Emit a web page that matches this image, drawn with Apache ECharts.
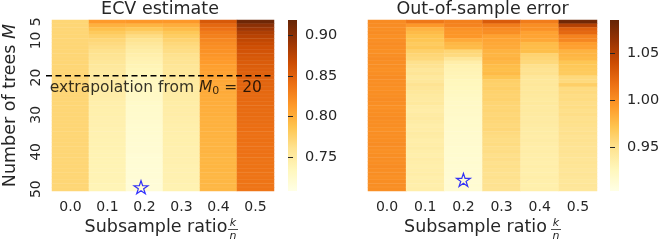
<!DOCTYPE html>
<html><head><meta charset="utf-8">
<script src="https://cdn.jsdelivr.net/npm/echarts@6/dist/echarts.min.js"></script>
<style>html,body{margin:0;padding:0;background:#fff}#c{width:665px;height:243px}</style>
</head><body><div id="c"></div>
<script>
// ---------- data ----------
const ratios = ['0.0','0.1','0.2','0.3','0.4','0.5'];
const trees = ['5','6','7','8','9','10','11','12','13','14','15','16','17','18','19','20','21','22','23','24','25','26','27','28','29','30','31','32','33','34','35','36','37','38','39','40','41','42','43','44','45','46','47','48','49','50'];
const yTickLabels = ['5','10','20','30','40','50'];

// ECV estimate, one array per subsample ratio, M = 5..50
const ecv00 = [0.772,0.772,0.772,0.772,0.772,0.772,0.772,0.772,0.772,0.772,
0.772,0.772,0.772,0.772,0.772,0.772,0.772,0.772,0.772,0.772,
0.772,0.772,0.772,0.772,0.772,0.772,0.772,0.772,0.772,0.772,
0.772,0.772,0.772,0.772,0.772,0.772,0.772,0.772,0.772,0.772,
0.772,0.772,0.772,0.772,0.772,0.772];
const ecv01 = [0.813,0.799,0.789,0.782,0.776,0.771,0.768,0.765,0.762,0.760,
0.758,0.756,0.754,0.753,0.752,0.751,0.750,0.749,0.748,0.747,
0.747,0.746,0.745,0.745,0.744,0.744,0.743,0.743,0.743,0.742,
0.742,0.742,0.741,0.741,0.741,0.740,0.740,0.740,0.740,0.739,
0.739,0.739,0.739,0.739,0.738,0.738];
const ecv02 = [0.815,0.797,0.784,0.774,0.766,0.760,0.755,0.751,0.748,0.745,
0.742,0.740,0.738,0.736,0.735,0.733,0.732,0.731,0.730,0.729,
0.728,0.727,0.726,0.725,0.725,0.724,0.724,0.723,0.722,0.722,
0.722,0.721,0.721,0.720,0.720,0.720,0.719,0.719,0.719,0.718,
0.718,0.718,0.718,0.717,0.717,0.717];
const ecv03 = [0.815,0.801,0.792,0.784,0.779,0.774,0.770,0.767,0.765,0.762,
0.760,0.759,0.757,0.756,0.755,0.754,0.753,0.752,0.751,0.750,
0.749,0.749,0.748,0.748,0.747,0.747,0.746,0.746,0.745,0.745,
0.745,0.744,0.744,0.744,0.743,0.743,0.743,0.743,0.743,0.742,
0.742,0.742,0.742,0.742,0.741,0.741];
const ecv04 = [0.857,0.846,0.839,0.833,0.829,0.825,0.822,0.820,0.818,0.816,
0.814,0.812,0.810,0.809,0.808,0.806,0.805,0.804,0.803,0.803,
0.802,0.802,0.801,0.801,0.800,0.800,0.799,0.799,0.799,0.798,
0.798,0.798,0.797,0.797,0.797,0.797,0.796,0.796,0.796,0.796,
0.796,0.795,0.795,0.795,0.795,0.795];
const ecv05 = [0.915,0.900,0.890,0.882,0.876,0.872,0.868,0.864,0.861,0.859,
0.857,0.855,0.854,0.852,0.851,0.850,0.849,0.848,0.847,0.846,
0.845,0.845,0.844,0.844,0.843,0.843,0.842,0.842,0.841,0.841,
0.840,0.840,0.840,0.839,0.839,0.839,0.839,0.838,0.838,0.838,
0.838,0.837,0.837,0.837,0.837,0.837];

// Out-of-sample error, one array per subsample ratio, M = 5..50
const oos00 = [1.002,1.001,1.000,1.001,0.999,1.000,1.001,1.000,0.999,1.000,
1.001,1.000,1.000,0.999,1.000,1.001,1.000,1.000,0.999,1.000,
1.000,1.001,1.000,0.999,1.000,1.000,1.001,1.000,1.000,0.999,
1.000,1.000,1.000,1.001,1.000,0.999,1.000,1.000,1.000,1.001,
1.000,1.000,0.999,1.000,1.000,1.000];
const oos01 = [1.013,0.995,0.980,0.976,0.972,0.970,0.966,0.968,0.962,0.958,
0.956,0.950,0.948,0.944,0.946,0.942,0.944,0.948,0.945,0.943,
0.941,0.940,0.942,0.938,0.937,0.939,0.940,0.938,0.936,0.937,
0.939,0.938,0.936,0.937,0.938,0.936,0.935,0.937,0.936,0.935,
0.936,0.937,0.935,0.936,0.935,0.936];
const oos02 = [1.008,1.006,0.998,0.996,0.995,0.985,0.978,0.976,0.958,0.955,
0.945,0.936,0.932,0.930,0.929,0.928,0.926,0.925,0.924,0.923,
0.922,0.921,0.920,0.920,0.919,0.919,0.918,0.918,0.918,0.917,
0.917,0.916,0.916,0.916,0.915,0.915,0.915,0.914,0.915,0.914,
0.914,0.914,0.913,0.913,0.914,0.913];
const oos03 = [1.030,1.010,1.002,1.000,0.990,0.988,0.986,0.985,0.980,0.979,
0.981,0.978,0.975,0.974,0.976,0.970,0.963,0.962,0.963,0.961,
0.960,0.961,0.959,0.958,0.959,0.957,0.958,0.957,0.956,0.957,
0.955,0.954,0.953,0.954,0.952,0.953,0.951,0.952,0.950,0.951,
0.950,0.949,0.950,0.948,0.949,0.948];
const oos04 = [1.010,1.000,0.998,0.990,0.988,0.986,0.976,0.975,0.974,0.960,
0.958,0.956,0.950,0.948,0.949,0.944,0.943,0.944,0.942,0.943,
0.942,0.941,0.942,0.940,0.941,0.940,0.939,0.940,0.939,0.938,
0.938,0.937,0.938,0.937,0.936,0.937,0.936,0.936,0.935,0.936,
0.935,0.935,0.936,0.935,0.934,0.935];
const oos05 = [1.080,1.050,1.026,1.022,1.006,1.004,0.992,0.990,0.980,0.979,
0.977,0.970,0.968,0.967,0.966,0.956,0.955,0.963,0.954,0.955,
0.953,0.954,0.952,0.953,0.951,0.952,0.950,0.951,0.950,0.949,
0.950,0.948,0.949,0.948,0.947,0.948,0.947,0.946,0.947,0.946,
0.945,0.946,0.945,0.944,0.945,0.944];

const ecvRange = [0.708, 0.919];
const oosRange = [0.903, 1.085];
const ecvTicks = [0.75, 0.80, 0.85, 0.90];
const oosTicks = [0.95, 1.00, 1.05];
const extrapolationM = 19.5;        // boundary above the M0 = 20 row
const ecvStar = {ratio: '0.2', M: 49.5};
const oosStar = {ratio: '0.2', M: 47.5};

// ---------- chart ----------
const YlOrBr = ['#ffffe5','#fff7bc','#fee391','#fec44f','#fe9929','#ec7014','#cc4c02','#993404','#662506'];
const FONT = 'DejaVu Sans';
const TXT = '#262626';
const ecvCols = [ecv00, ecv01, ecv02, ecv03, ecv04, ecv05];
const oosCols = [oos00, oos01, oos02, oos03, oos04, oos05];
function heatData(cols) {
  const d = [];
  cols.forEach((col, i) => col.forEach((v, j) => d.push([i, j, v])));
  return d;
}
const STAR = 'path://M50,0 L61.23,34.55 L97.55,34.55 L68.17,55.9 L79.39,90.45 L50,69.1 L20.61,90.45 L31.83,55.9 L2.45,34.55 L38.77,34.55 Z';

const L = {left: 46, top: 20, width: 228, height: 171};
const R = {left: 368, top: 20, width: 229, height: 171};
const CB1 = {left: 288, top: 20, width: 9, height: 171};
const CB2 = {left: 610, top: 20, width: 9, height: 171};

const xName = {
  name: '{a|Subsample ratio}{b|}',
  nameLocation: 'middle', nameGap: 27,
  nameTextStyle: {rich: {a: {fontSize: 17.5, color: TXT, fontFamily: FONT}, b: {width: 14}}}
};
function catX(gi) {
  return Object.assign({
    type: 'category', gridIndex: gi, data: ratios,
    axisLine: {show: false}, axisTick: {show: false}, splitLine: {show: false},
    axisLabel: {fontSize: 14, color: TXT, margin: 9, fontFamily: FONT}
  }, xName);
}
function hiddenVal(gi, min, max, inverse) {
  return {type: 'value', gridIndex: gi, min: min, max: max, inverse: !!inverse, show: false,
    splitLine: {show: false}, axisLine: {show: false}, axisTick: {show: false}, axisLabel: {show: false}};
}
function cbAxis(gi, range, ticks) {
  return {type: 'value', gridIndex: gi, position: 'right', min: range[0], max: range[1],
    axisLine: {show: false}, splitLine: {show: false},
    axisTick: {show: true, length: 5, lineStyle: {color: TXT, width: 1}, customValues: ticks},
    axisLabel: {show: true, fontSize: 14.5, color: TXT, margin: 8, fontFamily: FONT,
      customValues: ticks, formatter: v => v.toFixed(2)}};
}
function fraction(cx) {
  return {type: 'group', silent: true, children: [
    {type: 'text', x: cx, y: 223, style: {text: 'k', fontSize: 11, fontStyle: 'italic', fontFamily: FONT, fill: TXT, align: 'center', verticalAlign: 'middle'}},
    {type: 'line', shape: {x1: cx - 5, y1: 229.5, x2: cx + 5, y2: 229.5}, style: {stroke: TXT, lineWidth: 0.8}},
    {type: 'text', x: cx, y: 236, style: {text: 'n', fontSize: 11, fontStyle: 'italic', fontFamily: FONT, fill: TXT, align: 'center', verticalAlign: 'middle'}}
  ]};
}
function colorbar(cb) {
  return {type: 'rect', silent: true, shape: {x: cb.left, y: cb.top, width: cb.width, height: cb.height},
    style: {fill: {type: 'linear', x: 0, y: 1, x2: 0, y2: 0,
      colorStops: YlOrBr.map((c, i) => ({offset: i / (YlOrBr.length - 1), color: c}))}}};
}
const cellStyle = {borderWidth: 0.5, borderColor: 'rgba(255,255,255,0.12)'};

const option = {
  animation: false,
  backgroundColor: '#fff',
  textStyle: {fontFamily: FONT},
  grid: [
    Object.assign({}, L), Object.assign({}, R),
    Object.assign({}, CB1), Object.assign({}, CB2),
    Object.assign({}, L), Object.assign({}, R)
  ],
  xAxis: [
    catX(0), catX(1),
    hiddenVal(2, 0, 1), hiddenVal(3, 0, 1),
    hiddenVal(4, 0, 6), hiddenVal(5, 0, 6)
  ],
  yAxis: [
    {type: 'category', gridIndex: 0, data: trees, inverse: true,
      axisLine: {show: false}, axisTick: {show: false}, splitLine: {show: false},
      axisLabel: {rotate: 90, fontSize: 14, color: TXT, margin: 9, fontFamily: FONT,
        interval: (i, v) => yTickLabels.indexOf(v) >= 0},
      name: '{a|Number of trees }{i|M}', nameLocation: 'middle', nameGap: 33,
      nameTextStyle: {rich: {a: {fontSize: 17.5, color: TXT, fontFamily: FONT},
        i: {fontSize: 17.5, color: TXT, fontFamily: FONT, fontStyle: 'italic'}}}},
    {type: 'category', gridIndex: 1, data: trees, inverse: true,
      axisLine: {show: false}, axisTick: {show: false}, splitLine: {show: false}, axisLabel: {show: false}},
    cbAxis(2, ecvRange, ecvTicks),
    cbAxis(3, oosRange, oosTicks),
    hiddenVal(4, 4.5, 50.5, true),
    hiddenVal(5, 4.5, 50.5, true)
  ],
  visualMap: [
    {type: 'continuous', seriesIndex: 0, min: ecvRange[0], max: ecvRange[1], show: false,
      inRange: {color: YlOrBr}},
    {type: 'continuous', seriesIndex: 1, min: oosRange[0], max: oosRange[1], show: false,
      inRange: {color: YlOrBr}}
  ],
  series: [
    {type: 'heatmap', xAxisIndex: 0, yAxisIndex: 0, data: heatData(ecvCols), silent: true,
      itemStyle: cellStyle, emphasis: {disabled: true}},
    {type: 'heatmap', xAxisIndex: 1, yAxisIndex: 1, data: heatData(oosCols), silent: true,
      itemStyle: cellStyle, emphasis: {disabled: true}},
    {type: 'line', xAxisIndex: 4, yAxisIndex: 4, silent: true, symbol: 'none',
      data: [[0, extrapolationM], [6, extrapolationM]],
      lineStyle: {color: '#000', width: 1.6, type: [6, 3.5]}, z: 5},
    {type: 'scatter', xAxisIndex: 4, yAxisIndex: 4, silent: true, symbolSize: 0,
      data: [[0.1, 22.7]],
      label: {show: true, position: 'right', distance: 0,
        formatter: '{t|extrapolation from }{i|M}{s|0}{t| = 20}',
        rich: {t: {fontSize: 15.5, color: '#000', fontFamily: FONT},
          i: {fontSize: 15.5, color: '#000', fontFamily: FONT, fontStyle: 'italic'},
          s: {fontSize: 11, color: '#000', fontFamily: FONT, verticalAlign: 'bottom', padding: [6, 0, 0, 0]}}}, z: 6},
    {type: 'scatter', xAxisIndex: 4, yAxisIndex: 4, silent: true, symbol: STAR, symbolSize: [14, 13],
      data: [[ratios.indexOf(ecvStar.ratio) + 0.5, ecvStar.M]],
      itemStyle: {color: 'rgba(0,0,0,0)', borderColor: '#0000ff', borderWidth: 1.2}, z: 6},
    {type: 'scatter', xAxisIndex: 5, yAxisIndex: 5, silent: true, symbol: STAR, symbolSize: [14, 13],
      data: [[ratios.indexOf(oosStar.ratio) + 0.5, oosStar.M]],
      itemStyle: {color: 'rgba(0,0,0,0)', borderColor: '#0000ff', borderWidth: 1.2}, z: 6}
  ],
  graphic: [
    colorbar(CB1), colorbar(CB2),
    {type: 'text', x: L.left + L.width / 2, y: 9, silent: true,
      style: {text: 'ECV estimate', fontSize: 17.5, fontFamily: FONT, fill: TXT, align: 'center', verticalAlign: 'middle'}},
    {type: 'text', x: R.left + R.width / 2, y: 9, silent: true,
      style: {text: 'Out-of-sample error', fontSize: 17.5, fontFamily: FONT, fill: TXT, align: 'center', verticalAlign: 'middle'}},
    fraction(233), fraction(556)
  ]
};
const chart = echarts.init(document.getElementById('c'));
chart.setOption(option);
</script>
</body></html>
